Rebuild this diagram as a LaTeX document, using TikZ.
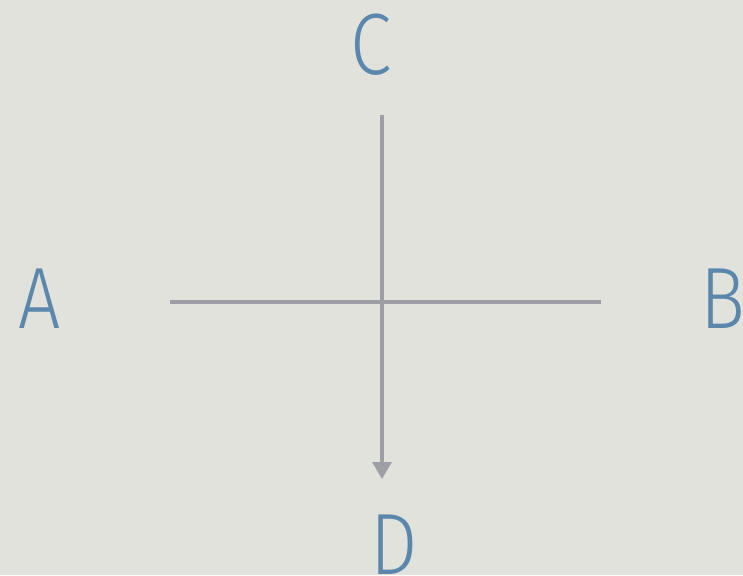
\documentclass[tikz,border=0pt]{standalone}
\usepackage{fontspec}
\setmainfont{Fira Sans}[UprightFont=* Light, FakeStretch=0.86]
\usetikzlibrary{arrows.meta}
\definecolor{bgcol}{HTML}{E2E2DC}
\definecolor{linecol}{HTML}{9E9EA6}
\definecolor{txtcol}{HTML}{5A87AB}
\tikzset{
  lbl/.style={inner sep=0pt, text=txtcol, font=\fontsize{87}{87}\selectfont},
  axis/.style={draw=linecol, line width=3.6pt},
}
\begin{document}
\begin{tikzpicture}[x=1pt,y=-1pt]
\fill[bgcol] (0,0) rectangle (743,575);
\useasboundingbox (0,0) rectangle (743,575);
\node[lbl, anchor=base] (A) at (40,328) {A};
\node[lbl, anchor=base west] (B) at (700,328) {B};
\node[lbl, anchor=base] (C) at (371,75) {C};
\node[lbl, anchor=base] (D) at (394,574) {D};
\coordinate (l) at (170,302);
\coordinate (r) at (601,302);
\coordinate (t) at (382,115);
\coordinate (b) at (382,479);
\draw[axis] (l) -- (r);
\draw[axis, -{Triangle[width=19pt,length=17pt]}] (t) -- (b);
\end{tikzpicture}
\end{document}
